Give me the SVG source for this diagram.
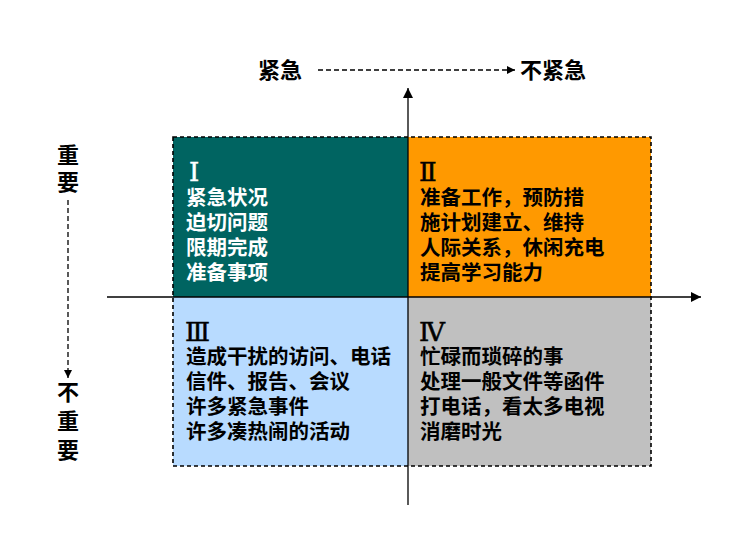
<svg xmlns="http://www.w3.org/2000/svg" width="756" height="544" viewBox="0 0 756 544">
<style>
.q{stroke:none}
.border{fill:none;stroke:#000;stroke-width:1.6;stroke-dasharray:4 3}
.t{font-family:"Liberation Sans","Noto Sans CJK SC",sans-serif;font-size:20.5px;font-weight:bold}
.rn{font-family:"DejaVu Serif","Liberation Serif","Noto Sans CJK SC",serif;font-size:26px}
.lbl{font-family:"Liberation Sans","Noto Sans CJK SC",sans-serif;font-size:22px;font-weight:bold;fill:#000}
.axis{stroke:#000;stroke-width:1.3;fill:none}
.dash{stroke:#000;stroke-width:1.3;fill:none;stroke-dasharray:5 3}
</style>
<defs>
<marker id="ah" viewBox="0 0 10 10" refX="10" refY="5" markerWidth="8" markerHeight="8" markerUnits="userSpaceOnUse" orient="auto">
<path d="M0,0 L10,5 L0,10 z" fill="#000"/>
</marker>
<marker id="ah2" viewBox="0 0 10 10" refX="10" refY="5" markerWidth="10" markerHeight="10" markerUnits="userSpaceOnUse" orient="auto">
<path d="M0,0 L10,5 L0,10 z" fill="#000"/>
</marker>
</defs>
<rect width="756" height="544" fill="#fff"/>
<g id="q1">
<rect class="q" x="173" y="137" width="235" height="160" fill="#006461"/>
<g fill="#fff">
<text class="rn" x="189" y="181" stroke="#fff" stroke-width="0.5">Ⅰ</text>
<text class="t" x="186" y="205">紧急状况</text>
<text class="t" x="186" y="230">迫切问题</text>
<text class="t" x="186" y="255">限期完成</text>
<text class="t" x="186" y="280">准备事项</text>
</g>
</g>
<g id="q2">
<rect class="q" x="408" y="137" width="243" height="160" fill="#FF9900"/>
<g fill="#000">
<text class="rn" x="419" y="181" stroke="#000" stroke-width="0.5">Ⅱ</text>
<text class="t" x="420" y="205">准备工作，预防措</text>
<text class="t" x="420" y="230">施计划建立、维持</text>
<text class="t" x="420" y="255">人际关系，休闲充电</text>
<text class="t" x="420" y="280">提高学习能力</text>
</g>
</g>
<g id="q3">
<rect class="q" x="173" y="297" width="235" height="169" fill="#B8DBFF"/>
<g fill="#000">
<text class="rn" x="185" y="341" stroke="#000" stroke-width="0.5">Ⅲ</text>
<text class="t" x="186" y="364">造成干扰的访问、电话</text>
<text class="t" x="186" y="389">信件、报告、会议</text>
<text class="t" x="186" y="414">许多紧急事件</text>
<text class="t" x="186" y="439">许多凑热闹的活动</text>
</g>
</g>
<g id="q4">
<rect class="q" x="408" y="297" width="243" height="169" fill="#C0C0C0"/>
<g fill="#000">
<text class="rn" x="419" y="341" stroke="#000" stroke-width="0.5">Ⅳ</text>
<text class="t" x="420" y="364">忙碌而琐碎的事</text>
<text class="t" x="420" y="389">处理一般文件等函件</text>
<text class="t" x="420" y="414">打电话，看太多电视</text>
<text class="t" x="420" y="439">消磨时光</text>
</g>
</g>
<rect class="border" x="173" y="137" width="478" height="329"/>
<g id="label-urgent">
<text class="lbl" x="258" y="78">紧急</text>
</g>
<g id="label-not-urgent">
<text class="lbl" x="520" y="78">不紧急</text>
</g>
<g id="label-important">
<text class="lbl" x="57" y="163">重</text>
<text class="lbl" x="57" y="190">要</text>
</g>
<g id="label-not-important">
<text class="lbl" x="57" y="400">不</text>
<text class="lbl" x="57" y="429">重</text>
<text class="lbl" x="57" y="458">要</text>
</g>
<g id="connectors">
<line class="axis" x1="408" y1="505" x2="408" y2="88" marker-end="url(#ah2)"/>
<line class="axis" x1="107" y1="297" x2="701" y2="297" marker-end="url(#ah2)"/>
<line class="dash" x1="318" y1="70" x2="515" y2="70" marker-end="url(#ah)"/>
<line class="dash" x1="68" y1="200" x2="68" y2="378" marker-end="url(#ah)"/>
</g>
</svg>
